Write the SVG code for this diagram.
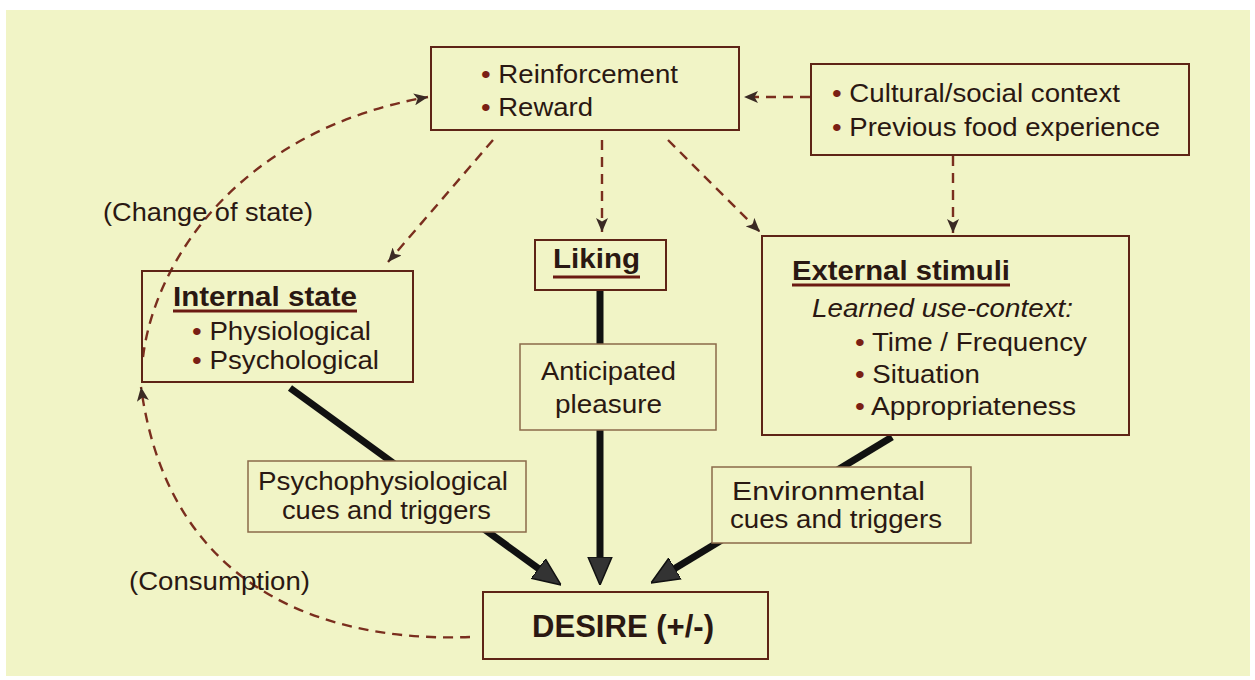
<svg xmlns="http://www.w3.org/2000/svg" width="1255" height="680" viewBox="0 0 1255 680">
  <style>
    .box { fill: none; stroke: #5e2416; stroke-width: 2; }
    .lbl { fill: #f1f4c6; stroke: #8b6a4a; stroke-width: 1.5; }
    .t { font-family: "Liberation Sans", Arial, sans-serif; font-size: 26px; fill: #2a1812; }
    .h { font-family: "Liberation Sans", Arial, sans-serif; font-size: 27px; font-weight: bold; fill: #2a1812; }
    .it { font-style: italic; }
    .mid { text-anchor: middle; }
    .bul { fill: #7a1f14; }
    .ul { stroke: #6b1a12; stroke-width: 3; }
    .dash { fill: none; stroke: #7a2e1e; stroke-width: 2.4; stroke-dasharray: 10 7; marker-end: url(#dart); }
    .thick { fill: none; stroke: #111; stroke-width: 7; marker-end: url(#bigArrow); }
  </style>
  <defs>
    <marker id="dart" viewBox="0 0 14 12" refX="14" refY="6" markerWidth="14" markerHeight="12" markerUnits="userSpaceOnUse" orient="auto">
      <path d="M0,0 L14,6 L0,12 L3.5,6 Z" fill="#3a2a24"/>
    </marker>
    <marker id="bigArrow" viewBox="0 0 28 26" refX="8" refY="13" markerWidth="28" markerHeight="26" markerUnits="userSpaceOnUse" orient="auto">
      <path d="M0,1 L28,13 L0,25 Z" fill="#333" stroke="#111" stroke-width="1.5" stroke-linejoin="round"/>
    </marker>
  </defs>

  <!-- page -->
  <rect x="0" y="0" width="1255" height="680" fill="#ffffff"/>
  <rect x="6" y="10" width="1244" height="666" fill="#f1f4c6"/>

  <!-- connectors -->
  <g id="connectors">
    <path class="dash" d="M810,97 L744,97"/>
    <path class="dash" d="M953,156 L953,233"/>
    <path class="dash" d="M493,140 L388,262"/>
    <path class="dash" d="M602,140 L602,232"/>
    <path class="dash" d="M668,140 L760,232"/>
    <path class="dash" d="M143,357 C155,260 240,130 428,97"/>
    <path class="dash" d="M470,637 C340,642 170,600 141,387"/>
    <path class="thick" d="M290,388 L544.8,573.2"/>
    <path class="thick" d="M600,290 L600,565"/>
    <path class="thick" d="M892,437 L668.1,572.6"/>
  </g>

  <!-- nodes -->
  <g id="reinforcement">
    <rect class="box" x="431" y="47" width="308" height="83"/>
    <text class="t" x="481" y="83" textLength="197" lengthAdjust="spacingAndGlyphs"><tspan class="bul">•</tspan> Reinforcement</text>
    <text class="t" x="481" y="116" textLength="112" lengthAdjust="spacingAndGlyphs"><tspan class="bul">•</tspan> Reward</text>
  </g>

  <g id="context">
    <rect class="box" x="811" y="64" width="378" height="91"/>
    <text class="t" x="832" y="102" textLength="288" lengthAdjust="spacingAndGlyphs"><tspan class="bul">•</tspan> Cultural/social context</text>
    <text class="t" x="832" y="136" textLength="328" lengthAdjust="spacingAndGlyphs"><tspan class="bul">•</tspan> Previous food experience</text>
  </g>

  <g id="internal-state">
    <rect class="box" x="142" y="271" width="271" height="111"/>
    <text class="h" x="173" y="306" textLength="184" lengthAdjust="spacingAndGlyphs">Internal state</text>
    <line class="ul" x1="173" y1="311" x2="357" y2="311"/>
    <text class="t" x="192" y="340" textLength="179" lengthAdjust="spacingAndGlyphs"><tspan class="bul">•</tspan> Physiological</text>
    <text class="t" x="192" y="369" textLength="187" lengthAdjust="spacingAndGlyphs"><tspan class="bul">•</tspan> Psychological</text>
  </g>

  <g id="liking">
    <rect class="box" x="535" y="240" width="131" height="50"/>
    <text class="h" x="553" y="268" textLength="87" lengthAdjust="spacingAndGlyphs">Liking</text>
    <line class="ul" x1="553" y1="277" x2="640" y2="277"/>
  </g>

  <g id="external-stimuli">
    <rect class="box" x="762" y="236" width="367" height="199"/>
    <text class="h" x="792" y="280" textLength="218" lengthAdjust="spacingAndGlyphs">External stimuli</text>
    <line class="ul" x1="792" y1="285" x2="1010" y2="285"/>
    <text class="t it" x="812" y="317" textLength="261" lengthAdjust="spacingAndGlyphs">Learned use-context:</text>
    <text class="t" x="855" y="351" textLength="232" lengthAdjust="spacingAndGlyphs"><tspan class="bul">•</tspan> Time / Frequency</text>
    <text class="t" x="855" y="383" textLength="125" lengthAdjust="spacingAndGlyphs"><tspan class="bul">•</tspan> Situation</text>
    <text class="t" x="855" y="415" textLength="221" lengthAdjust="spacingAndGlyphs"><tspan class="bul">•</tspan> Appropriateness</text>
  </g>

  <g id="anticipated-pleasure">
    <rect class="lbl" x="520" y="344" width="196" height="86"/>
    <text class="t mid" x="608.5" y="380" textLength="135" lengthAdjust="spacingAndGlyphs">Anticipated</text>
    <text class="t mid" x="608.5" y="413" textLength="107" lengthAdjust="spacingAndGlyphs">pleasure</text>
  </g>

  <g id="psychophysiological-cues">
    <rect class="lbl" x="248" y="461" width="278" height="71"/>
    <text class="t mid" x="383" y="490" textLength="250" lengthAdjust="spacingAndGlyphs">Psychophysiological</text>
    <text class="t mid" x="386.5" y="519" textLength="209" lengthAdjust="spacingAndGlyphs">cues and triggers</text>
  </g>

  <g id="environmental-cues">
    <rect class="lbl" x="712" y="467" width="259" height="76"/>
    <text class="t mid" x="828.5" y="500" textLength="193" lengthAdjust="spacingAndGlyphs">Environmental</text>
    <text class="t mid" x="836" y="528" textLength="212" lengthAdjust="spacingAndGlyphs">cues and triggers</text>
  </g>

  <g id="desire">
    <rect class="box" x="483" y="592" width="285" height="67"/>
    <text class="h mid" x="623" y="637" style="font-size:31px" textLength="182" lengthAdjust="spacingAndGlyphs">DESIRE (+/-)</text>
  </g>

  <g id="loop-labels">
    <text class="t" x="103" y="221" textLength="210" lengthAdjust="spacingAndGlyphs">(Change of state)</text>
    <text class="t" x="129" y="590" textLength="181" lengthAdjust="spacingAndGlyphs">(Consumption)</text>
  </g>
</svg>
